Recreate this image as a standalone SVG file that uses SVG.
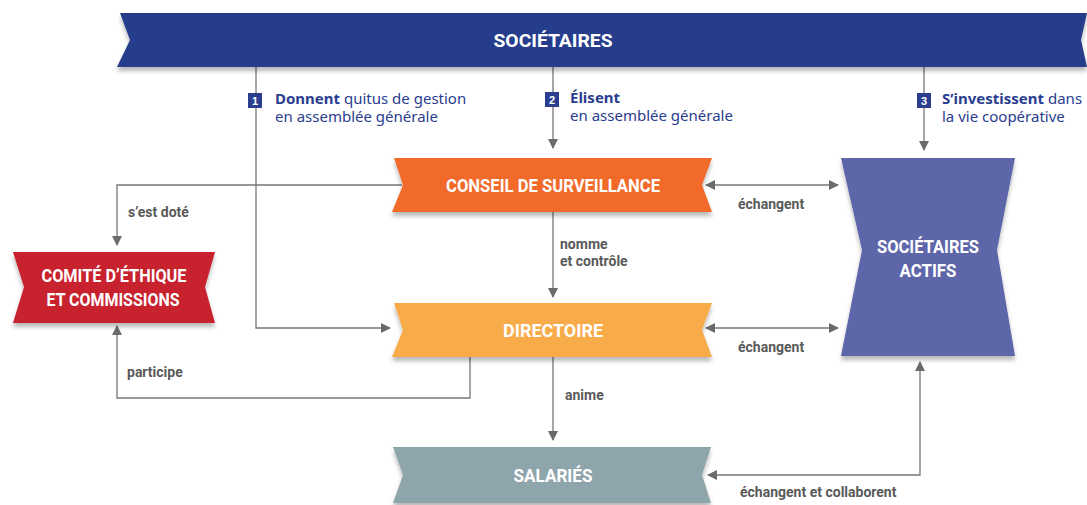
<svg xmlns="http://www.w3.org/2000/svg" width="1087" height="505" viewBox="0 0 1087 505">
<defs>
<filter id="sh" x="-5%" y="-10%" width="110%" height="140%"><feDropShadow dx="0" dy="4" stdDeviation="2" flood-color="#000" flood-opacity="0.28"/></filter>
<marker id="ah" viewBox="0 0 10 10" refX="9" refY="5" markerWidth="10" markerHeight="10" markerUnits="userSpaceOnUse" orient="auto-start-reverse"><path d="M0,0 L10,5 L0,10 z" fill="#6b6b6b"/></marker>
</defs>
<style>
.n{font-family:"Roboto","Liberation Sans",sans-serif;font-weight:bold;fill:#fff;text-anchor:middle;font-size:19px}
.a{font-family:"Noto Sans","Open Sans",sans-serif;font-size:15px;fill:#2a3d8f}
.ab{font-weight:bold}
.l{font-family:"Roboto","Liberation Sans",sans-serif;font-weight:bold;font-size:14px;fill:#5a5a5a}
.c{fill:none;stroke:#777;stroke-width:1.3}
.bd{fill:#2a3d8f}
.bt{font-family:"Liberation Sans",sans-serif;font-weight:bold;font-size:11px;fill:#fff;text-anchor:middle}
</style>
<g id="connectors">
<path class="c" d="M256,67 V328 H390" marker-end="url(#ah)"/>
<path class="c" d="M553,67 V148" marker-end="url(#ah)"/>
<path class="c" d="M924,67 V150" marker-end="url(#ah)"/>
<path class="c" d="M402,185 H117 V245" marker-end="url(#ah)"/>
<path class="c" d="M553,212 V297" marker-end="url(#ah)"/>
<path class="c" d="M470,357 V398 H117 V326" marker-end="url(#ah)"/>
<path class="c" d="M553,357 V440" marker-end="url(#ah)"/>
<path class="c" d="M706,185 H838" marker-start="url(#ah)" marker-end="url(#ah)"/>
<path class="c" d="M706,328 H838" marker-start="url(#ah)" marker-end="url(#ah)"/>
<path class="c" d="M708,475 H920 V362" marker-start="url(#ah)" marker-end="url(#ah)"/>
<text class="l" x="128" y="217">s’est doté</text>
<text class="l" x="560" y="249">nomme</text>
<text class="l" x="560" y="266">et contrôle</text>
<text class="l" x="127" y="377">participe</text>
<text class="l" x="565" y="400">anime</text>
<text class="l" x="738" y="209">échangent</text>
<text class="l" x="738" y="352">échangent</text>
<text class="l" x="740" y="497">échangent et collaborent</text>
</g>
<g id="societaires">
<path d="M120,13 H1087 V13 L1081,40 L1087,67 H117 L130,40 Z" fill="#253d8c" filter="url(#sh)"/>
<text class="n" x="553" y="47" font-size="20" textLength="119" lengthAdjust="spacingAndGlyphs">SOCIÉTAIRES</text>
</g>
<g id="step1">
<rect class="bd" x="248" y="93" width="14" height="15"/>
<text class="bt" x="255" y="105">1</text>
<text class="a" x="275" y="104"><tspan class="ab">Donnent</tspan> quitus de gestion</text>
<text class="a" x="275" y="122">en assemblée générale</text>
</g>
<g id="step2">
<rect class="bd" x="545" y="92" width="14" height="15"/>
<text class="bt" x="552" y="104">2</text>
<text class="a ab" x="570" y="103">Élisent</text>
<text class="a" x="570" y="121">en assemblée générale</text>
</g>
<g id="step3">
<rect class="bd" x="917" y="93" width="14" height="15"/>
<text class="bt" x="924" y="105">3</text>
<text class="a" x="942" y="104"><tspan class="ab">S’investissent</tspan> dans</text>
<text class="a" x="942" y="122">la vie coopérative</text>
</g>
<g id="conseil">
<path d="M394,158 H712 L702,185 L712,212 H392 L403,185 Z" fill="#f26a2c" filter="url(#sh)"/>
<text class="n" x="553" y="192" textLength="214" lengthAdjust="spacingAndGlyphs">CONSEIL DE SURVEILLANCE</text>
</g>
<g id="directoire">
<path d="M394,303 H712 L702,330 L712,357 H392 L403,330 Z" fill="#f8ab48" filter="url(#sh)"/>
<text class="n" x="553" y="337" textLength="100" lengthAdjust="spacingAndGlyphs">DIRECTOIRE</text>
</g>
<g id="salaries">
<path d="M393,447 H711 L702,475 L711,503 H393 L403,475 Z" fill="#8fa5ac" filter="url(#sh)"/>
<text class="n" x="553" y="482" textLength="79" lengthAdjust="spacingAndGlyphs">SALARIÉS</text>
</g>
<g id="actifs">
<path d="M841,158 H1015 L997,250 L1015,356 H841 L862,250 Z" fill="#5d66a9" filter="url(#sh)"/>
<text class="n" x="928" y="253" textLength="102" lengthAdjust="spacingAndGlyphs">SOCIÉTAIRES</text>
<text class="n" x="928" y="277" textLength="57" lengthAdjust="spacingAndGlyphs">ACTIFS</text>
</g>
<g id="comite">
<path d="M13,252 H215 L205,287 L215,323 H13 L24,287 Z" fill="#c7202f" filter="url(#sh)"/>
<text class="n" x="114" y="282" textLength="145" lengthAdjust="spacingAndGlyphs">COMITÉ D’ÉTHIQUE</text>
<text class="n" x="113" y="306" textLength="133" lengthAdjust="spacingAndGlyphs">ET COMMISSIONS</text>
</g>
</svg>
